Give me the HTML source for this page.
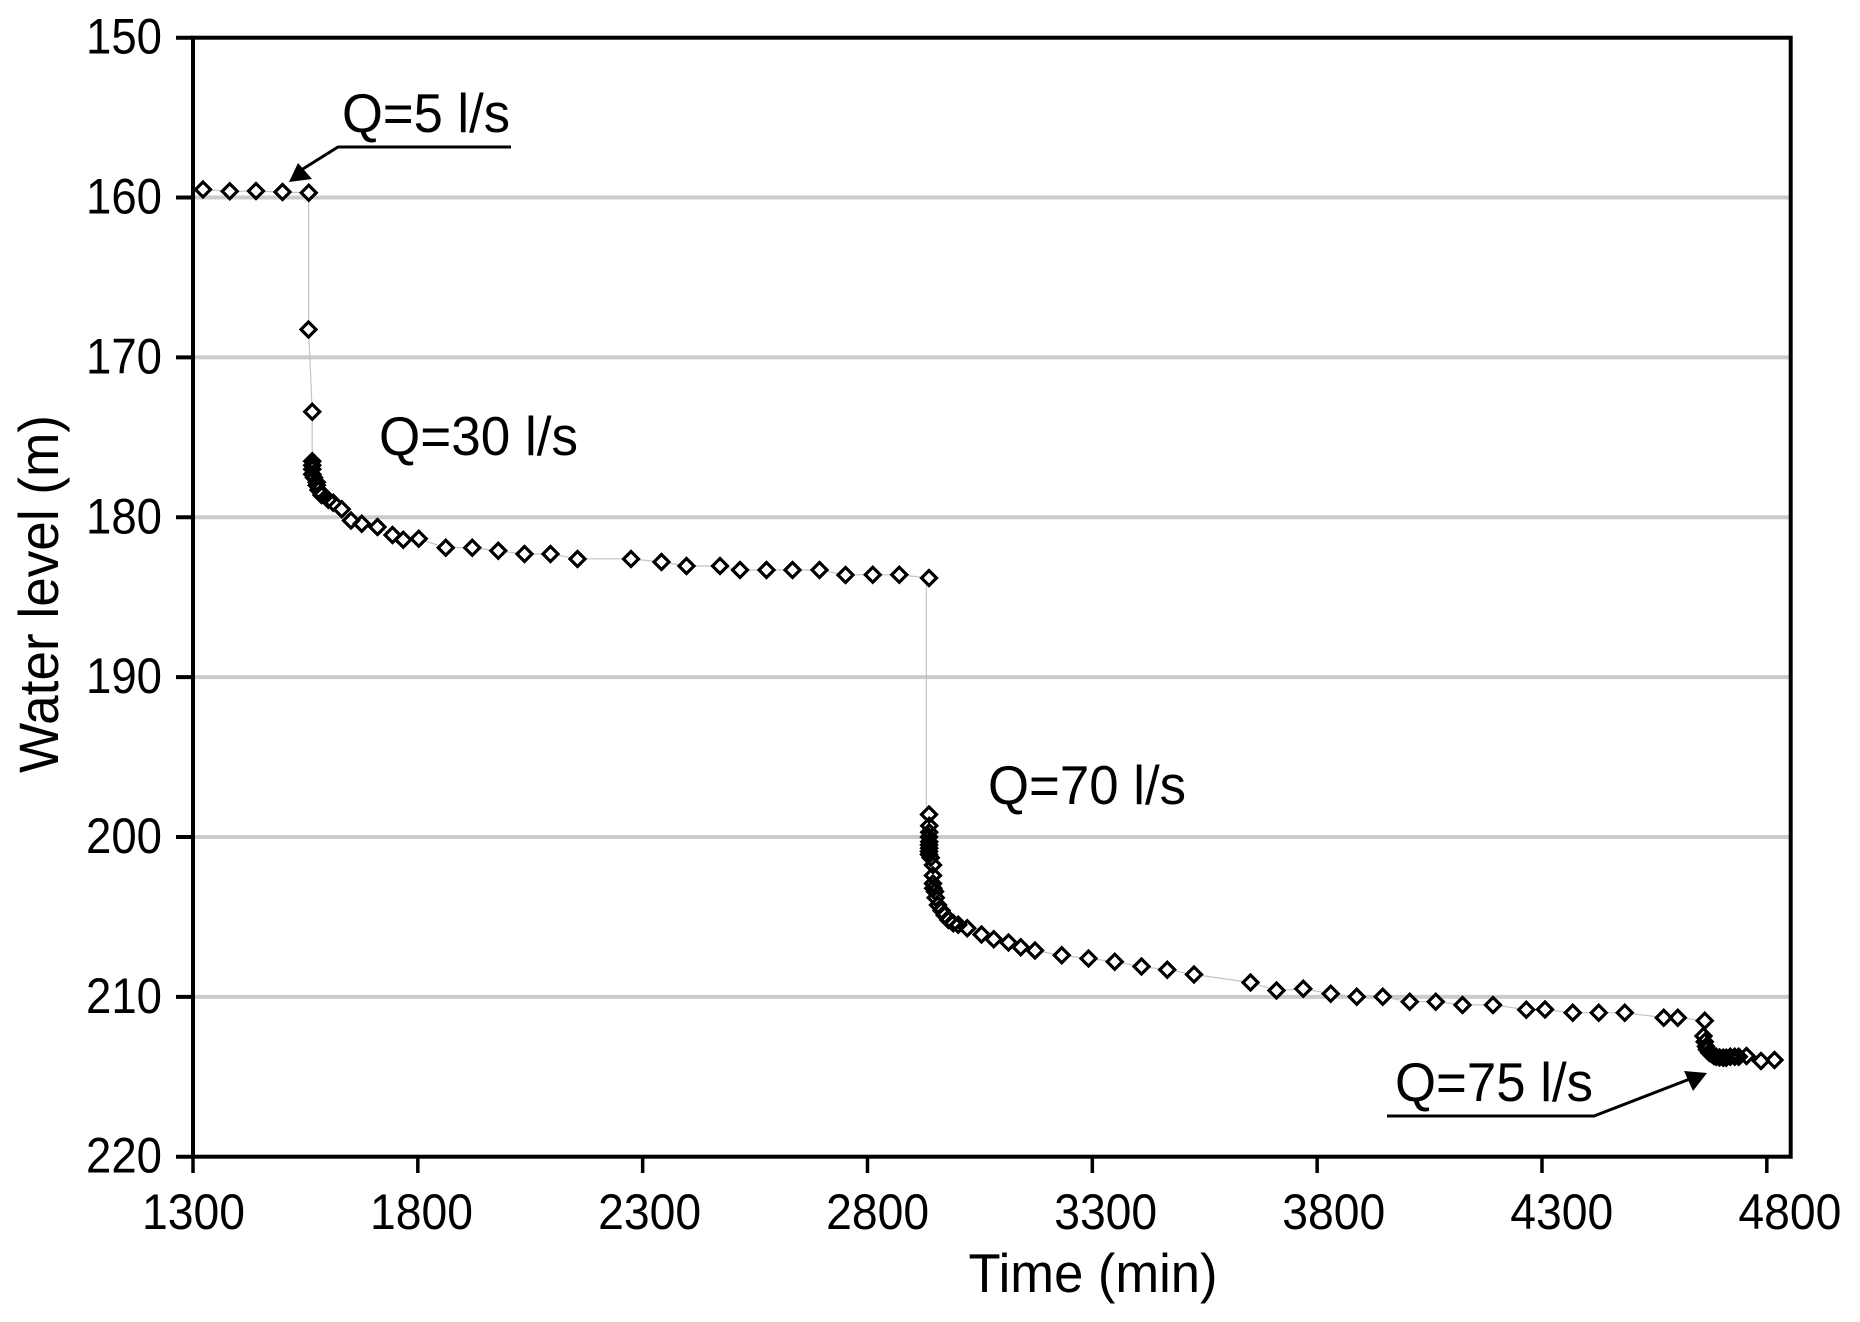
<!DOCTYPE html>
<html>
<head>
<meta charset="utf-8">
<title>Water level vs time</title>
<style>
html,body{margin:0;padding:0;background:#fff;}
svg{display:block;}
text{font-family:"Liberation Sans",Arial,sans-serif;fill:#000;}
</style>
</head>
<body>
<svg id="chart" xmlns="http://www.w3.org/2000/svg" width="1860" height="1322" viewBox="0 0 1860 1322">
<rect x="0" y="0" width="1860" height="1322" fill="#fff"></rect>
<g id="grid"></g>
<path id="line" fill="none" stroke="#c4c4c4" stroke-width="1.2"></path>
<g id="fills"></g>
<g id="marks" shape-rendering="crispEdges"></g>
<g id="axes"></g>
<text x="1093" y="1292" font-size="55" text-anchor="middle" textLength="249" lengthAdjust="spacingAndGlyphs">Time (min)</text>
<text transform="translate(58,594) rotate(-90)" font-size="56" text-anchor="middle" textLength="358" lengthAdjust="spacingAndGlyphs">Water level (m)</text>
<g>
<text x="342" y="132" font-size="55" textLength="168" lengthAdjust="spacingAndGlyphs">Q=5 l/s</text>
<polyline points="511,147 338,147 298,172" fill="none" stroke="#000" stroke-width="3"></polyline>
<polygon points="289,182 298,163 312,179" fill="#000"></polygon>
</g>
<text x="379" y="455" font-size="55" textLength="199" lengthAdjust="spacingAndGlyphs">Q=30 l/s</text>
<text x="988" y="804" font-size="55" textLength="198" lengthAdjust="spacingAndGlyphs">Q=70 l/s</text>
<g>
<text x="1395" y="1101" font-size="55" textLength="198" lengthAdjust="spacingAndGlyphs">Q=75 l/s</text>
<polyline points="1387,1116 1594,1116 1695,1077" fill="none" stroke="#000" stroke-width="3"></polyline>
<polygon points="1707,1073 1684,1071 1693,1091" fill="#000"></polygon>
</g>
</svg>
<script>
var yTicks = [150,160,170,180,190,200,210,220];
var xTicks = [1300,1800,2300,2800,3300,3800,4300,4800];
var gridLevels = [160,170,180,190,200,210];
var times = [
1322,1382,1440,1499,1557,1557,1565,
1565,1565,1565,1565,1569,1575,1575,1579,1586,1601,1612,1631,1651,1675,1710,1744,1768,
1802,1862,1921,1979,2037,2095,2155,2274,2342,2398,2472,2517,2575,2633,2693,2751,2812,2871,2937,
2937,2937,2937,2937,2937,2937,2937,2937,2937,2941,2946,2946,2946,2946,2950,2952,2957,2965,2972,2980,2991,3002,3022,
3054,3081,3114,3141,3172,3232,3291,3350,3409,3467,3526,3652,3710,3769,3830,3888,3946,4006,4064,4123,4191,4265,4307,4368,4426,4484,4571,4602,4662,
4659,4662,4665,4667,4672,4677,4682,4688,4695,4703,4710,4719,4729,4738,4755,4787,4817
];
var levels = [
159.5,159.6,159.6,159.65,159.7,168.25,173.4,
176.5,176.75,177.0,177.3,177.5,177.8,178.0,178.3,178.6,178.9,179.1,179.5,180.2,180.4,180.6,181.1,181.4,
181.35,181.9,181.9,182.1,182.3,182.3,182.6,182.6,182.8,183.05,183.05,183.3,183.3,183.3,183.3,183.6,183.6,183.6,183.8,
198.6,199.3,199.7,200.0,200.3,200.5,200.7,200.9,201.1,201.3,201.75,202.4,202.9,203.2,203.4,203.8,204.25,204.6,204.9,205.2,205.4,205.5,205.7,
206.1,206.4,206.6,206.9,207.1,207.4,207.6,207.8,208.1,208.3,208.6,209.1,209.6,209.5,209.8,210.0,210.0,210.3,210.3,210.5,210.5,210.8,210.8,211.0,211.0,211.0,211.3,211.3,211.5,
212.44,212.8,213.1,213.3,213.5,213.56,213.7,213.75,213.8,213.8,213.8,213.75,213.75,213.75,213.7,214.0,213.95
];
var stepTime = 2931;

var SVGNS = 'http://www.w3.org/2000/svg';
function xScale(t){ return 193 + (t - 1300) * 0.44966; }
function xLabelScale(t){ return 193.5 + (t - 1300) * 0.4561; }
function yScale(l){ return 37.7 + (l - 150) * 15.986; }
function make(tag, attrs, parent){
  var el = document.createElementNS(SVGNS, tag);
  for (var k in attrs) { el.setAttribute(k, attrs[k]); }
  parent.appendChild(el);
  return el;
}
var PLOT_LEFT = 193, PLOT_RIGHT = 1790.7, PLOT_TOP = 37.7, PLOT_BOTTOM = 1156.7;
var gridG = document.getElementById('grid');
var axesG = document.getElementById('axes');
var fillsG = document.getElementById('fills');
var marksG = document.getElementById('marks');

gridLevels.forEach(function(l){
  var g = make('line', {x1:PLOT_LEFT, x2:PLOT_RIGHT, y1:yScale(l), y2:yScale(l), stroke:'#cbcbcb', 'stroke-width':4}, gridG);
  
  
});

var d = '';
times.forEach(function(t, i){
  if (i > 0 && levels[i] - levels[i - 1] > 10) {
    d += 'L' + xScale(stepTime).toFixed(1) + ' ' + yScale(levels[i - 1]).toFixed(1);
    d += 'L' + xScale(stepTime).toFixed(1) + ' ' + yScale(levels[i]).toFixed(1);
  }
  d += (i ? 'L' : 'M') + xScale(t).toFixed(1) + ' ' + yScale(levels[i]).toFixed(1);
});
document.getElementById('line').setAttribute('d', d);

var R = 7.5;
function diamond(cx, cy){
  return (cx - R) + ',' + cy + ' ' + cx + ',' + (cy - R) + ' ' + (cx + R) + ',' + cy + ' ' + cx + ',' + (cy + R);
}
times.forEach(function(t, i){
  var cx = +xScale(t).toFixed(1), cy = +yScale(levels[i]).toFixed(1);
  var f = make('polygon', {points:diamond(cx, cy), fill:'#fff', stroke:'none'}, fillsG);
  
  
});
times.forEach(function(t, i){
  var cx = +xScale(t).toFixed(1), cy = +yScale(levels[i]).toFixed(1);
  var m = make('polygon', {points:diamond(cx, cy), fill:'none', stroke:'#000', 'stroke-width':3.2}, marksG);
  
  
});

var frame = make('rect', {x:PLOT_LEFT, y:PLOT_TOP, width:PLOT_RIGHT - PLOT_LEFT, height:PLOT_BOTTOM - PLOT_TOP, fill:'none', stroke:'#000', 'stroke-width':4}, axesG);



yTicks.forEach(function(l){
  var y = yScale(l);
  var tk = make('line', {x1:176, x2:PLOT_LEFT, y1:y, y2:y, stroke:'#000', 'stroke-width':4}, axesG);
  
  
  var tx = make('text', {x:162, y:y + 16, 'font-size':50, 'text-anchor':'end', textLength:76, lengthAdjust:'spacingAndGlyphs'}, axesG);
  tx.textContent = l;
  
  
});
xTicks.forEach(function(t){
  var x = xScale(t);
  var tk = make('line', {x1:x, x2:x, y1:PLOT_BOTTOM, y2:1173, stroke:'#000', 'stroke-width':3.5}, axesG);
  
  
  var tx = make('text', {x:xLabelScale(t), y:1229, 'font-size':50, 'text-anchor':'middle', textLength:103, lengthAdjust:'spacingAndGlyphs'}, axesG);
  tx.textContent = t;
  
  
});
</script>
</body>
</html>
